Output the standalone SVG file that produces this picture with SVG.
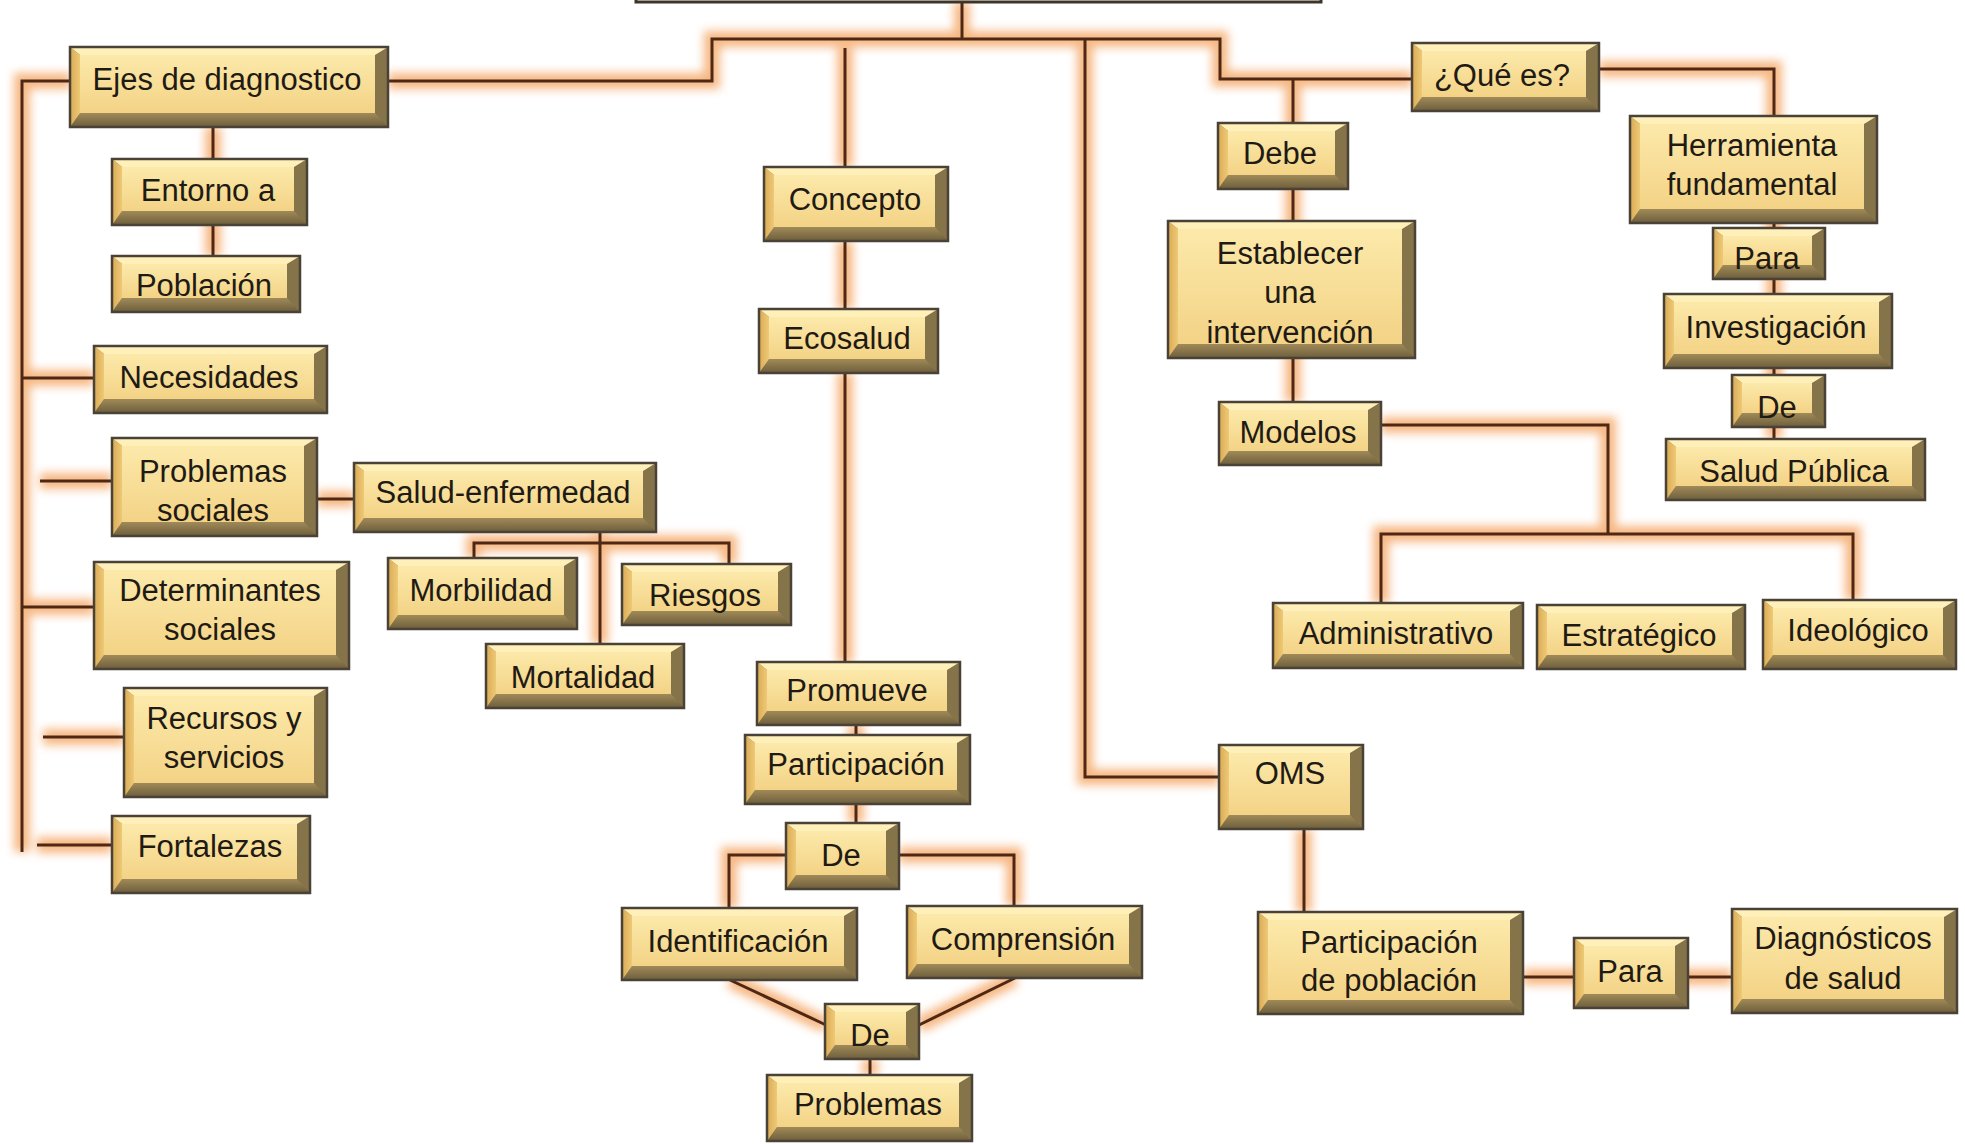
<svg xmlns="http://www.w3.org/2000/svg" xmlns:xlink="http://www.w3.org/1999/xlink" width="1965" height="1144" viewBox="0 0 1965 1144">
<style>
.bo{fill:#85734A}
.bb{fill:url(#gBot)}
.bt{fill:#FFF0BA}
.bl{fill:url(#gLeft)}
.bf{fill:url(#gFace)}
.bd{fill:none;stroke:#4A4236;stroke-width:2.5}
.t{font-family:"Liberation Sans",Arial,sans-serif;font-size:31px;fill:#1F1B14;text-anchor:middle}
.glow{fill:none;stroke:#F39A50;stroke-width:16;opacity:0.7}
.wire{fill:none;stroke:#4E2814;stroke-width:3}
</style>
<defs>
<linearGradient id="gFace" x1="0" y1="0" x2="0" y2="1"><stop offset="0" stop-color="#FCE9AA"/><stop offset="1" stop-color="#F3D386"/></linearGradient>
<linearGradient id="gBot" x1="0" y1="0" x2="0" y2="1"><stop offset="0" stop-color="#A08A58"/><stop offset="1" stop-color="#6D5E3C"/></linearGradient>
<linearGradient id="gLeft" x1="0" y1="0" x2="1" y2="0"><stop offset="0" stop-color="#D9AA55"/><stop offset="1" stop-color="#EFC976"/></linearGradient>
<filter id="blur" x="-20%" y="-20%" width="140%" height="140%"><feGaussianBlur stdDeviation="5"/></filter>
<g id="wires">
<path d="M962,2 V39"/>
<path d="M388,81 H712 V39 H1220 V79 H1412"/>
<path d="M845,48 V167"/>
<path d="M845,241 V309"/>
<path d="M845,373 V663"/>
<path d="M1085,39 V777 H1219"/>
<path d="M1293,79 V402"/>
<path d="M1381,425 H1608 V534"/>
<path d="M1381,603 V534 H1853 V600"/>
<path d="M1599,69 H1774 V439"/>
<path d="M71,81 H22 V852"/>
<path d="M22,378 H94"/>
<path d="M40,481 H112"/>
<path d="M22,607 H94"/>
<path d="M43,737 H124"/>
<path d="M37,845 H112"/>
<path d="M213,127 V256"/>
<path d="M317,499 H354"/>
<path d="M600,532 V644"/>
<path d="M474,558 V543 H729 V564"/>
<path d="M856,725 V823"/>
<path d="M786,855 H729 V908"/>
<path d="M899,855 H1014 V906"/>
<path d="M730,980 L826,1025"/>
<path d="M1015,978 L919,1025"/>
<path d="M870,1059 V1075"/>
<path d="M1304,829 V912"/>
<path d="M1523,977 H1732"/>
</g>
</defs>
<rect width="1965" height="1144" fill="#FFFFFF"/>
<g id="connectors">
<use xlink:href="#wires" class="glow" filter="url(#blur)"/>
<use xlink:href="#wires" class="wire"/>
</g>
<g id="title"><rect x="636" y="-40" width="685" height="42" class="bd" style="stroke:#3D3528;stroke-width:3"/></g>

<g id="n-ejes"><rect class="bo" x="70" y="47" width="318" height="80"/><polygon class="bb" points="70,127 80,113 375,113 388,127"/><polygon class="bt" points="70,47 388,47 375,55 80,55"/><polygon class="bl" points="70,47 80,55 80,113 70,127"/><rect class="bf" x="80" y="55" width="295" height="58"/><rect class="bd" x="70" y="47" width="318" height="80"/><text class="t" x="227" y="90">Ejes de diagnostico</text></g>

<g id="n-entorno"><rect class="bo" x="112" y="159" width="195" height="66"/><polygon class="bb" points="112,225 122,211 294,211 307,225"/><polygon class="bt" points="112,159 307,159 294,167 122,167"/><polygon class="bl" points="112,159 122,167 122,211 112,225"/><rect class="bf" x="122" y="167" width="172" height="44"/><rect class="bd" x="112" y="159" width="195" height="66"/><text class="t" x="208" y="201">Entorno a</text></g>

<g id="n-poblacion"><rect class="bo" x="112" y="256" width="188" height="56"/><polygon class="bb" points="112,312 122,298 287,298 300,312"/><polygon class="bt" points="112,256 300,256 287,264 122,264"/><polygon class="bl" points="112,256 122,264 122,298 112,312"/><rect class="bf" x="122" y="264" width="165" height="34"/><rect class="bd" x="112" y="256" width="188" height="56"/><text class="t" x="204" y="296">Población</text></g>

<g id="n-necesidades"><rect class="bo" x="94" y="346" width="233" height="67"/><polygon class="bb" points="94,413 104,399 314,399 327,413"/><polygon class="bt" points="94,346 327,346 314,354 104,354"/><polygon class="bl" points="94,346 104,354 104,399 94,413"/><rect class="bf" x="104" y="354" width="210" height="45"/><rect class="bd" x="94" y="346" width="233" height="67"/><text class="t" x="209" y="388">Necesidades</text></g>

<g id="n-problemas-sociales"><rect class="bo" x="112" y="438" width="205" height="98"/><polygon class="bb" points="112,536 122,522 304,522 317,536"/><polygon class="bt" points="112,438 317,438 304,446 122,446"/><polygon class="bl" points="112,438 122,446 122,522 112,536"/><rect class="bf" x="122" y="446" width="182" height="76"/><rect class="bd" x="112" y="438" width="205" height="98"/><text class="t" x="213" y="482">Problemas</text><text class="t" x="213" y="521">sociales</text></g>

<g id="n-salud-enfermedad"><rect class="bo" x="354" y="463" width="302" height="69"/><polygon class="bb" points="354,532 364,518 643,518 656,532"/><polygon class="bt" points="354,463 656,463 643,471 364,471"/><polygon class="bl" points="354,463 364,471 364,518 354,532"/><rect class="bf" x="364" y="471" width="279" height="47"/><rect class="bd" x="354" y="463" width="302" height="69"/><text class="t" x="503" y="503">Salud-enfermedad</text></g>

<g id="n-morbilidad"><rect class="bo" x="388" y="558" width="189" height="71"/><polygon class="bb" points="388,629 398,615 564,615 577,629"/><polygon class="bt" points="388,558 577,558 564,566 398,566"/><polygon class="bl" points="388,558 398,566 398,615 388,629"/><rect class="bf" x="398" y="566" width="166" height="49"/><rect class="bd" x="388" y="558" width="189" height="71"/><text class="t" x="481" y="601">Morbilidad</text></g>

<g id="n-riesgos"><rect class="bo" x="622" y="564" width="169" height="61"/><polygon class="bb" points="622,625 632,611 778,611 791,625"/><polygon class="bt" points="622,564 791,564 778,572 632,572"/><polygon class="bl" points="622,564 632,572 632,611 622,625"/><rect class="bf" x="632" y="572" width="146" height="39"/><rect class="bd" x="622" y="564" width="169" height="61"/><text class="t" x="705" y="606">Riesgos</text></g>

<g id="n-mortalidad"><rect class="bo" x="486" y="644" width="198" height="64"/><polygon class="bb" points="486,708 496,694 671,694 684,708"/><polygon class="bt" points="486,644 684,644 671,652 496,652"/><polygon class="bl" points="486,644 496,652 496,694 486,708"/><rect class="bf" x="496" y="652" width="175" height="42"/><rect class="bd" x="486" y="644" width="198" height="64"/><text class="t" x="583" y="688">Mortalidad</text></g>

<g id="n-determinantes"><rect class="bo" x="94" y="562" width="255" height="107"/><polygon class="bb" points="94,669 104,655 336,655 349,669"/><polygon class="bt" points="94,562 349,562 336,570 104,570"/><polygon class="bl" points="94,562 104,570 104,655 94,669"/><rect class="bf" x="104" y="570" width="232" height="85"/><rect class="bd" x="94" y="562" width="255" height="107"/><text class="t" x="220" y="601">Determinantes</text><text class="t" x="220" y="640">sociales</text></g>

<g id="n-recursos"><rect class="bo" x="124" y="688" width="203" height="109"/><polygon class="bb" points="124,797 134,783 314,783 327,797"/><polygon class="bt" points="124,688 327,688 314,696 134,696"/><polygon class="bl" points="124,688 134,696 134,783 124,797"/><rect class="bf" x="134" y="696" width="180" height="87"/><rect class="bd" x="124" y="688" width="203" height="109"/><text class="t" x="224" y="729">Recursos y</text><text class="t" x="224" y="768">servicios</text></g>

<g id="n-fortalezas"><rect class="bo" x="112" y="816" width="198" height="77"/><polygon class="bb" points="112,893 122,879 297,879 310,893"/><polygon class="bt" points="112,816 310,816 297,824 122,824"/><polygon class="bl" points="112,816 122,824 122,879 112,893"/><rect class="bf" x="122" y="824" width="175" height="55"/><rect class="bd" x="112" y="816" width="198" height="77"/><text class="t" x="210" y="857">Fortalezas</text></g>

<g id="n-concepto"><rect class="bo" x="764" y="167" width="184" height="74"/><polygon class="bb" points="764,241 774,227 935,227 948,241"/><polygon class="bt" points="764,167 948,167 935,175 774,175"/><polygon class="bl" points="764,167 774,175 774,227 764,241"/><rect class="bf" x="774" y="175" width="161" height="52"/><rect class="bd" x="764" y="167" width="184" height="74"/><text class="t" x="855" y="210">Concepto</text></g>

<g id="n-ecosalud"><rect class="bo" x="759" y="309" width="179" height="64"/><polygon class="bb" points="759,373 769,359 925,359 938,373"/><polygon class="bt" points="759,309 938,309 925,317 769,317"/><polygon class="bl" points="759,309 769,317 769,359 759,373"/><rect class="bf" x="769" y="317" width="156" height="42"/><rect class="bd" x="759" y="309" width="179" height="64"/><text class="t" x="847" y="349">Ecosalud</text></g>

<g id="n-promueve"><rect class="bo" x="757" y="662" width="203" height="63"/><polygon class="bb" points="757,725 767,711 947,711 960,725"/><polygon class="bt" points="757,662 960,662 947,670 767,670"/><polygon class="bl" points="757,662 767,670 767,711 757,725"/><rect class="bf" x="767" y="670" width="180" height="41"/><rect class="bd" x="757" y="662" width="203" height="63"/><text class="t" x="857" y="701">Promueve</text></g>

<g id="n-participacion"><rect class="bo" x="745" y="735" width="225" height="69"/><polygon class="bb" points="745,804 755,790 957,790 970,804"/><polygon class="bt" points="745,735 970,735 957,743 755,743"/><polygon class="bl" points="745,735 755,743 755,790 745,804"/><rect class="bf" x="755" y="743" width="202" height="47"/><rect class="bd" x="745" y="735" width="225" height="69"/><text class="t" x="856" y="775">Participación</text></g>

<g id="n-de1"><rect class="bo" x="786" y="823" width="113" height="66"/><polygon class="bb" points="786,889 796,875 886,875 899,889"/><polygon class="bt" points="786,823 899,823 886,831 796,831"/><polygon class="bl" points="786,823 796,831 796,875 786,889"/><rect class="bf" x="796" y="831" width="90" height="44"/><rect class="bd" x="786" y="823" width="113" height="66"/><text class="t" x="841" y="866">De</text></g>

<g id="n-identificacion"><rect class="bo" x="622" y="908" width="235" height="72"/><polygon class="bb" points="622,980 632,966 844,966 857,980"/><polygon class="bt" points="622,908 857,908 844,916 632,916"/><polygon class="bl" points="622,908 632,916 632,966 622,980"/><rect class="bf" x="632" y="916" width="212" height="50"/><rect class="bd" x="622" y="908" width="235" height="72"/><text class="t" x="738" y="952">Identificación</text></g>

<g id="n-comprension"><rect class="bo" x="907" y="906" width="235" height="72"/><polygon class="bb" points="907,978 917,964 1129,964 1142,978"/><polygon class="bt" points="907,906 1142,906 1129,914 917,914"/><polygon class="bl" points="907,906 917,914 917,964 907,978"/><rect class="bf" x="917" y="914" width="212" height="50"/><rect class="bd" x="907" y="906" width="235" height="72"/><text class="t" x="1023" y="950">Comprensión</text></g>

<g id="n-de2"><rect class="bo" x="825" y="1004" width="94" height="55"/><polygon class="bb" points="825,1059 835,1045 906,1045 919,1059"/><polygon class="bt" points="825,1004 919,1004 906,1012 835,1012"/><polygon class="bl" points="825,1004 835,1012 835,1045 825,1059"/><rect class="bf" x="835" y="1012" width="71" height="33"/><rect class="bd" x="825" y="1004" width="94" height="55"/><text class="t" x="870" y="1046">De</text></g>

<g id="n-problemas"><rect class="bo" x="767" y="1075" width="205" height="66"/><polygon class="bb" points="767,1141 777,1127 959,1127 972,1141"/><polygon class="bt" points="767,1075 972,1075 959,1083 777,1083"/><polygon class="bl" points="767,1075 777,1083 777,1127 767,1141"/><rect class="bf" x="777" y="1083" width="182" height="44"/><rect class="bd" x="767" y="1075" width="205" height="66"/><text class="t" x="868" y="1115">Problemas</text></g>

<g id="n-oms"><rect class="bo" x="1219" y="745" width="144" height="84"/><polygon class="bb" points="1219,829 1229,815 1350,815 1363,829"/><polygon class="bt" points="1219,745 1363,745 1350,753 1229,753"/><polygon class="bl" points="1219,745 1229,753 1229,815 1219,829"/><rect class="bf" x="1229" y="753" width="121" height="62"/><rect class="bd" x="1219" y="745" width="144" height="84"/><text class="t" x="1290" y="784">OMS</text></g>

<g id="n-participacion-poblacion"><rect class="bo" x="1258" y="912" width="265" height="102"/><polygon class="bb" points="1258,1014 1268,1000 1510,1000 1523,1014"/><polygon class="bt" points="1258,912 1523,912 1510,920 1268,920"/><polygon class="bl" points="1258,912 1268,920 1268,1000 1258,1014"/><rect class="bf" x="1268" y="920" width="242" height="80"/><rect class="bd" x="1258" y="912" width="265" height="102"/><text class="t" x="1389" y="953">Participación</text><text class="t" x="1389" y="991">de población</text></g>

<g id="n-para2"><rect class="bo" x="1574" y="938" width="114" height="70"/><polygon class="bb" points="1574,1008 1584,994 1675,994 1688,1008"/><polygon class="bt" points="1574,938 1688,938 1675,946 1584,946"/><polygon class="bl" points="1574,938 1584,946 1584,994 1574,1008"/><rect class="bf" x="1584" y="946" width="91" height="48"/><rect class="bd" x="1574" y="938" width="114" height="70"/><text class="t" x="1630" y="982">Para</text></g>

<g id="n-diagnosticos"><rect class="bo" x="1732" y="909" width="225" height="104"/><polygon class="bb" points="1732,1013 1742,999 1944,999 1957,1013"/><polygon class="bt" points="1732,909 1957,909 1944,917 1742,917"/><polygon class="bl" points="1732,909 1742,917 1742,999 1732,1013"/><rect class="bf" x="1742" y="917" width="202" height="82"/><rect class="bd" x="1732" y="909" width="225" height="104"/><text class="t" x="1843" y="949">Diagnósticos</text><text class="t" x="1843" y="989">de salud</text></g>

<g id="n-que-es"><rect class="bo" x="1412" y="43" width="187" height="68"/><polygon class="bb" points="1412,111 1422,97 1586,97 1599,111"/><polygon class="bt" points="1412,43 1599,43 1586,51 1422,51"/><polygon class="bl" points="1412,43 1422,51 1422,97 1412,111"/><rect class="bf" x="1422" y="51" width="164" height="46"/><rect class="bd" x="1412" y="43" width="187" height="68"/><text class="t" x="1502" y="86">¿Qué es?</text></g>

<g id="n-debe"><rect class="bo" x="1218" y="123" width="130" height="66"/><polygon class="bb" points="1218,189 1228,175 1335,175 1348,189"/><polygon class="bt" points="1218,123 1348,123 1335,131 1228,131"/><polygon class="bl" points="1218,123 1228,131 1228,175 1218,189"/><rect class="bf" x="1228" y="131" width="107" height="44"/><rect class="bd" x="1218" y="123" width="130" height="66"/><text class="t" x="1280" y="164">Debe</text></g>

<g id="n-establecer"><rect class="bo" x="1168" y="221" width="247" height="137"/><polygon class="bb" points="1168,358 1178,344 1402,344 1415,358"/><polygon class="bt" points="1168,221 1415,221 1402,229 1178,229"/><polygon class="bl" points="1168,221 1178,229 1178,344 1168,358"/><rect class="bf" x="1178" y="229" width="224" height="115"/><rect class="bd" x="1168" y="221" width="247" height="137"/><text class="t" x="1290" y="264">Establecer</text><text class="t" x="1290" y="303">una</text><text class="t" x="1290" y="343">intervención</text></g>

<g id="n-modelos"><rect class="bo" x="1219" y="402" width="162" height="63"/><polygon class="bb" points="1219,465 1229,451 1368,451 1381,465"/><polygon class="bt" points="1219,402 1381,402 1368,410 1229,410"/><polygon class="bl" points="1219,402 1229,410 1229,451 1219,465"/><rect class="bf" x="1229" y="410" width="139" height="41"/><rect class="bd" x="1219" y="402" width="162" height="63"/><text class="t" x="1298" y="443">Modelos</text></g>

<g id="n-herramienta"><rect class="bo" x="1630" y="116" width="247" height="107"/><polygon class="bb" points="1630,223 1640,209 1864,209 1877,223"/><polygon class="bt" points="1630,116 1877,116 1864,124 1640,124"/><polygon class="bl" points="1630,116 1640,124 1640,209 1630,223"/><rect class="bf" x="1640" y="124" width="224" height="85"/><rect class="bd" x="1630" y="116" width="247" height="107"/><text class="t" x="1752" y="156">Herramienta</text><text class="t" x="1752" y="195">fundamental</text></g>

<g id="n-para1"><rect class="bo" x="1713" y="228" width="112" height="51"/><polygon class="bb" points="1713,279 1723,265 1812,265 1825,279"/><polygon class="bt" points="1713,228 1825,228 1812,236 1723,236"/><polygon class="bl" points="1713,228 1723,236 1723,265 1713,279"/><rect class="bf" x="1723" y="236" width="89" height="29"/><rect class="bd" x="1713" y="228" width="112" height="51"/><text class="t" x="1767" y="269">Para</text></g>

<g id="n-investigacion"><rect class="bo" x="1664" y="294" width="228" height="74"/><polygon class="bb" points="1664,368 1674,354 1879,354 1892,368"/><polygon class="bt" points="1664,294 1892,294 1879,302 1674,302"/><polygon class="bl" points="1664,294 1674,302 1674,354 1664,368"/><rect class="bf" x="1674" y="302" width="205" height="52"/><rect class="bd" x="1664" y="294" width="228" height="74"/><text class="t" x="1776" y="338">Investigación</text></g>

<g id="n-de3"><rect class="bo" x="1732" y="375" width="93" height="52"/><polygon class="bb" points="1732,427 1742,413 1812,413 1825,427"/><polygon class="bt" points="1732,375 1825,375 1812,383 1742,383"/><polygon class="bl" points="1732,375 1742,383 1742,413 1732,427"/><rect class="bf" x="1742" y="383" width="70" height="30"/><rect class="bd" x="1732" y="375" width="93" height="52"/><text class="t" x="1777" y="418">De</text></g>

<g id="n-salud-publica"><rect class="bo" x="1666" y="439" width="259" height="61"/><polygon class="bb" points="1666,500 1676,486 1912,486 1925,500"/><polygon class="bt" points="1666,439 1925,439 1912,447 1676,447"/><polygon class="bl" points="1666,439 1676,447 1676,486 1666,500"/><rect class="bf" x="1676" y="447" width="236" height="39"/><rect class="bd" x="1666" y="439" width="259" height="61"/><text class="t" x="1794" y="482">Salud Pública</text></g>

<g id="n-administrativo"><rect class="bo" x="1273" y="603" width="250" height="65"/><polygon class="bb" points="1273,668 1283,654 1510,654 1523,668"/><polygon class="bt" points="1273,603 1523,603 1510,611 1283,611"/><polygon class="bl" points="1273,603 1283,611 1283,654 1273,668"/><rect class="bf" x="1283" y="611" width="227" height="43"/><rect class="bd" x="1273" y="603" width="250" height="65"/><text class="t" x="1396" y="644">Administrativo</text></g>

<g id="n-estrategico"><rect class="bo" x="1537" y="605" width="208" height="64"/><polygon class="bb" points="1537,669 1547,655 1732,655 1745,669"/><polygon class="bt" points="1537,605 1745,605 1732,613 1547,613"/><polygon class="bl" points="1537,605 1547,613 1547,655 1537,669"/><rect class="bf" x="1547" y="613" width="185" height="42"/><rect class="bd" x="1537" y="605" width="208" height="64"/><text class="t" x="1639" y="646">Estratégico</text></g>

<g id="n-ideologico"><rect class="bo" x="1763" y="600" width="193" height="69"/><polygon class="bb" points="1763,669 1773,655 1943,655 1956,669"/><polygon class="bt" points="1763,600 1956,600 1943,608 1773,608"/><polygon class="bl" points="1763,600 1773,608 1773,655 1763,669"/><rect class="bf" x="1773" y="608" width="170" height="47"/><rect class="bd" x="1763" y="600" width="193" height="69"/><text class="t" x="1858" y="641">Ideológico</text></g>
</svg>
